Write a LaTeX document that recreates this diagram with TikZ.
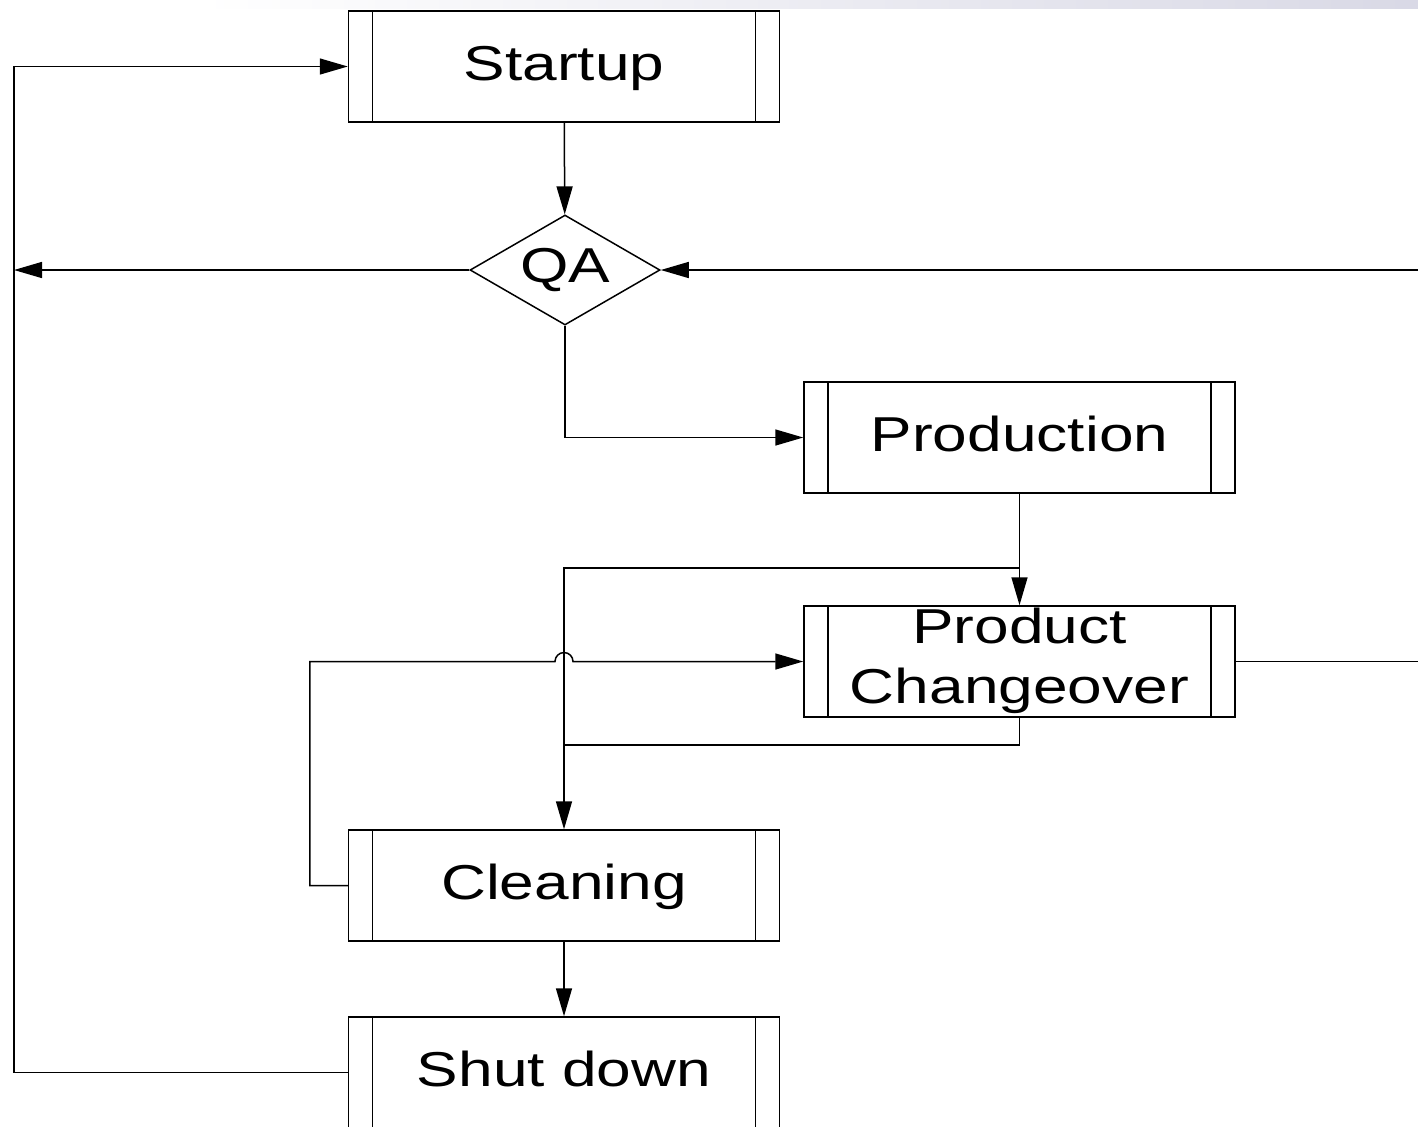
\documentclass[tikz,border=0pt]{standalone}
\usepackage{fontspec}
\setmainfont{Liberation Sans}
\usetikzlibrary{shapes.geometric,arrows.meta}
\newcommand{\wtxt}[1]{\scalebox{1.27}[1]{#1}}
\begin{document}
\begin{tikzpicture}[x=0.5pt,y=-0.5pt,>={Triangle[length=14pt,width=8pt]}, line width=0.75pt, line join=miter,
	font=\fontsize{24.5}{30}\selectfont,
	proc/.style={draw, minimum width=215.5pt, minimum height=55.5pt, inner sep=0pt, text height=19.5pt, text depth=5.5pt,
		path picture={\draw ([xshift=12pt]path picture bounding box.north west) -- ([xshift=12pt]path picture bounding box.south west);
			\draw ([xshift=-12pt]path picture bounding box.north east) -- ([xshift=-12pt]path picture bounding box.south east);}},
	check/.style={draw, diamond, aspect=1.73, inner sep=0pt, minimum width=95pt, minimum height=55pt}]
		\useasboundingbox (0,0) rectangle (1418,1126);
		\shade[left color=white, right color=blue!20!gray!25, draw=none] (200,0) rectangle (1418,8);
		%\draw[color=gray!50,dashed] (0,0) grid[step=100] (1418,1126);
		\node[proc] (start) at (564,66.5) {\wtxt{Startup}};
		\node[check] (qa) at (565,270) {\wtxt{QA}};
		\node[proc] (prod) at (1019.5,437.5) {\wtxt{Production}};
		\node[proc, text height=12pt, text depth=0pt] (change) at (1019.5,661.5) {\smash{\wtxt{\begin{tabular}{@{}c@{}}Product\\Changeover\end{tabular}}}};
		\node[proc] (clean) at (564,885.5) {\wtxt{Cleaning}};
		\node[proc] (shut) at (564,1072.5) {\wtxt{Shut down}};
		\coordinate (lt) at (14,66.5);
		\coordinate (redge) at (1418,270);
		\coordinate (split) at (1019.5,568);
		\coordinate (merge) at (564,745);
		\draw[->] (start) -- (qa);
		\draw[->] (qa.west) -- (qa.west -| lt);
		\draw[->] (redge) -- (qa.east);
		\draw[->] (qa.south) |- (prod.west);
		\draw[->] (prod) -- (change);
		\draw[->] (split) -| (clean.north);
		\draw (change.south) |- (merge);
		% loop back from cleaning, jumps over the vertical line
		\draw[->] (clean.west) -- ++(-38,0) |- ([xshift=-4.5pt]clean.north |- change.west)
			arc[start angle=180, end angle=0, radius=4.5pt] -- (change.west);
		\draw (change.east) -- (change.east -| redge);
		\draw[->] (clean) -- (shut);
		\draw[->] (shut.west) -| (lt) -- (start.west);
	\end{tikzpicture}
\end{document}
